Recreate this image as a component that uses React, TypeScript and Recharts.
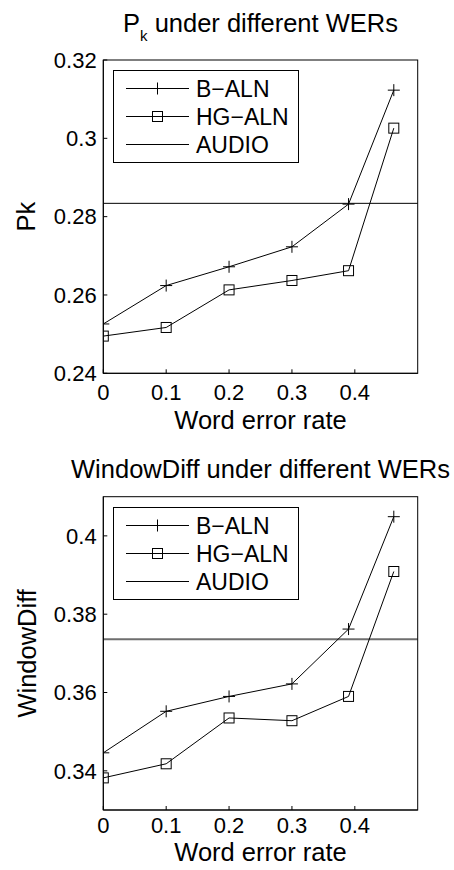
import { LineChart, Line, XAxis, YAxis, ReferenceLine, Legend } from 'recharts'

const wer = [0, 0.1, 0.2, 0.3, 0.39, 0.462]
const werTicks = [0, 0.1, 0.2, 0.3, 0.4]
const werMax = 0.5
const seriesNames = ['B−ALN', 'HG−ALN', 'AUDIO']

const pkBAln = [0.2526, 0.2624, 0.2672, 0.2723, 0.2832, 0.3123]
const pkHgAln = [0.2495, 0.2517, 0.2613, 0.2637, 0.2662, 0.3026]
const pkAudio = 0.2834
const pkTicks = [0.24, 0.26, 0.28, 0.3, 0.32]

const wdBAln = [0.3446, 0.3552, 0.359, 0.3622, 0.3762, 0.4049]
const wdHgAln = [0.3382, 0.3418, 0.3535, 0.3528, 0.359, 0.3909]
const wdAudio = 0.3736
const wdTicks = [0.34, 0.36, 0.38, 0.4]

const FONT = "'Liberation Sans', Arial, Helvetica, sans-serif"
const W = 454
const H = 435
const PLOT_LEFT = 103.3
const PLOT_RIGHT = 36.3
const PLOT_W = W - PLOT_LEFT - PLOT_RIGHT
const PLOT_H = 313.3
const TICK = 4

function PlusDot(props: any) {
  const { cx, cy } = props
  if (cx == null || cy == null) return <g />
  return <path d={`M${cx - 6},${cy}H${cx + 6}M${cx},${cy - 6}V${cy + 6}`} stroke="#000" strokeWidth={1} fill="none" />
}

function SquareDot(props: any) {
  const { cx, cy } = props
  if (cx == null || cy == null) return <g />
  return <rect x={cx - 5} y={cy - 5} width={10} height={10} stroke="#000" strokeWidth={1} fill="none" />
}

function LegendBox() {
  const rows = [18.5, 46.5, 74.5]
  return (
    <svg width={186} height={93} style={{ display: 'block', fontFamily: FONT }}>
      <rect x={0.5} y={0.5} width={185} height={92} fill="#fff" stroke="#000" />
      {seriesNames.map((name, i) => (
        <g key={name}>
          <line x1={13} x2={76} y1={rows[i]} y2={rows[i]} stroke="#000" strokeWidth={1} />
          {i === 0 && <PlusDot cx={44.5} cy={rows[i]} />}
          {i === 1 && <SquareDot cx={44.5} cy={rows[i]} />}
          <text x={83} y={rows[i]} dy="0.36em" fontSize={23} fill="#000">{name}</text>
        </g>
      ))}
    </svg>
  )
}

type PanelProps = {
  bAln: number[]
  hgAln: number[]
  audio: number
  yDomain: [number, number]
  yTicks: number[]
  title: React.ReactNode
  titleY: number
  yLabel: string
  yLabelX: number
  xLabelY: number
  xTickMargin: number
  plotTop: number
  legendTop: number
  audioStroke: string
  audioWidth: number
}

function Panel(p: PanelProps) {
  const data = wer.map((w, i) => ({ wer: w, bAln: p.bAln[i], hgAln: p.hgAln[i] }))
  const plotBottom = p.plotTop + PLOT_H
  const tickStyle = { fontSize: 22, fill: '#000', fontFamily: FONT }
  return (
    <div style={{ position: 'relative', width: W, height: H, fontFamily: FONT }}>
      <LineChart
        width={W}
        height={H}
        data={data}
        margin={{ top: p.plotTop, right: PLOT_RIGHT, bottom: H - plotBottom - 40, left: PLOT_LEFT - 80 }}
      >
        <XAxis
          xAxisId="b"
          type="number"
          dataKey="wer"
          domain={[0, werMax]}
          ticks={werTicks}
          allowDataOverflow
          height={40}
          stroke="#000"
          tickSize={-TICK}
          tickMargin={p.xTickMargin}
          tick={tickStyle}
        />
        <YAxis
          yAxisId="l"
          type="number"
          domain={p.yDomain}
          ticks={p.yTicks}
          allowDataOverflow
          width={80}
          stroke="#000"
          tickSize={-TICK}
          tickMargin={10.6}
          tick={tickStyle}
        />
        <ReferenceLine xAxisId="b" yAxisId="l" y={p.audio} stroke={p.audioStroke} strokeWidth={p.audioWidth} />
        <Line
          xAxisId="b"
          yAxisId="l"
          type="linear"
          dataKey="bAln"
          name={seriesNames[0]}
          stroke="#000"
          strokeWidth={1}
          dot={(d: any) => <PlusDot key={`p${d.index}`} {...d} />}
          isAnimationActive={false}
        />
        <Line
          xAxisId="b"
          yAxisId="l"
          type="linear"
          dataKey="hgAln"
          name={seriesNames[1]}
          stroke="#000"
          strokeWidth={1}
          dot={(d: any) => <SquareDot key={`s${d.index}`} {...d} />}
          isAnimationActive={false}
        />
        <Legend
          layout="vertical"
          align="center"
          verticalAlign="middle"
          wrapperStyle={{ left: 113, top: p.legendTop, width: 186, height: 93 }}
          content={() => <LegendBox />}
        />
      </LineChart>
      <svg
        width={W}
        height={H}
        style={{ position: 'absolute', left: 0, top: 0, pointerEvents: 'none', fontFamily: FONT }}
      >
        {/* axes box (same rectangle as the chart's plot area) */}
        <rect x={PLOT_LEFT} y={p.plotTop} width={PLOT_W} height={PLOT_H} fill="none" stroke="#000" strokeWidth={1} />
        <text x={260.5} y={p.titleY} textAnchor="middle" fontSize={25.5} fill="#000">
          {p.title}
        </text>
        <text
          x={p.yLabelX}
          y={p.plotTop + PLOT_H / 2}
          transform={`rotate(-90, ${p.yLabelX}, ${p.plotTop + PLOT_H / 2})`}
          textAnchor="middle"
          fontSize={25.5}
          fill="#000"
        >
          {p.yLabel}
        </text>
        <text x={260.5} y={p.xLabelY} textAnchor="middle" fontSize={25.5} fill="#000">
          Word error rate
        </text>
      </svg>
    </div>
  )
}

export default function App() {
  return (
    <div style={{ position: 'absolute', left: 0, top: 0, width: W, height: 870, background: '#fff' }}>
      <Panel
        bAln={pkBAln}
        hgAln={pkHgAln}
        audio={pkAudio}
        yDomain={[0.24, 0.32]}
        yTicks={pkTicks}
        title={
          <>
            <tspan>P</tspan>
            <tspan fontSize={15} dy={9}>k</tspan>
            <tspan dy={-9}> under different WERs</tspan>
          </>
        }
        titleY={31.7}
        yLabel="Pk"
        yLabelX={35}
        xLabelY={429}
        xTickMargin={15}
        plotTop={60}
        legendTop={70}
        audioStroke="#000"
        audioWidth={1}
      />
      <Panel
        bAln={wdBAln}
        hgAln={wdHgAln}
        audio={wdAudio}
        yDomain={[0.33, 0.41]}
        yTicks={wdTicks}
        title="WindowDiff under different WERs"
        titleY={43}
        yLabel="WindowDiff"
        yLabelX={36.5}
        xLabelY={426}
        xTickMargin={11}
        plotTop={61.7}
        legendTop={71.7}
        audioStroke="#6e6e6e"
        audioWidth={2}
      />
    </div>
  )
}
